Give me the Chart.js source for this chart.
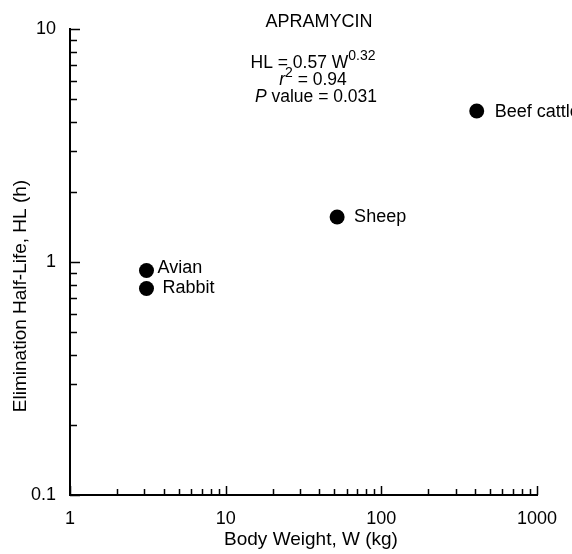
<!DOCTYPE html>
<html>
<head>
<meta charset="utf-8">
<script src="https://cdn.jsdelivr.net/npm/chart.js@4"></script>
<style>
  html, body { margin: 0; padding: 0; background: #fff; }
  canvas { display: block; }
</style>
</head>
<body>
<canvas id="chart" width="572" height="554"></canvas>
<script>
const species = ['Avian', 'Rabbit', 'Sheep', 'Beef cattle'];
const bodyWeight = [3.1, 3.1, 52, 410];
const halfLife = [0.92, 0.77, 1.56, 4.45];
const xTicks = [1, 10, 100, 1000];
const yTicks = [0.1, 1, 10];
const drugName = 'APRAMYCIN';
const fitCoef = '0.57';
const fitExp = '0.32';
const rSquared = '0.94';
const pValue = '0.031';

// where each name sits relative to its dot (px)
const labelShift = [[11, 3], [16, 5], [17, 5], [18, 6]];
const FONT = '"Liberation Sans", Arial, Helvetica, sans-serif';

// draw a line made of pieces (normal / italic / superscript), centred on cx
function richText(ctx, parts, cx, base) {
  let w = 0;
  parts.forEach(p => { ctx.font = p.font; w += ctx.measureText(p.t).width; });
  let x = cx - w / 2;
  ctx.textAlign = 'left';
  parts.forEach(p => {
    ctx.font = p.font;
    ctx.fillText(p.t, x, base + (p.dy || 0));
    x += ctx.measureText(p.t).width;
  });
}

const extras = {
  id: 'extras',
  afterDraw(chart) {
    const ctx = chart.ctx;
    const xs = chart.scales.x, ys = chart.scales.y;
    const area = chart.chartArea;
    ctx.save();
    ctx.strokeStyle = '#000';
    ctx.fillStyle = '#000';
    ctx.lineWidth = 1.5;

    // tick marks point into the plot
    ctx.beginPath();
    for (let d = 1; d < 1000; d *= 10) {
      for (let m = 1; m <= 10; m++) {
        const px = Math.round(xs.getPixelForValue(m * d)) + 0.5;
        const len = (m === 1 || m === 10) ? 9 : 6;
        ctx.moveTo(px, area.bottom);
        ctx.lineTo(px, area.bottom - len);
      }
    }
    [0.1, 1].forEach(d => {
      for (let m = 1; m <= 10; m++) {
        const py = Math.round(ys.getPixelForValue(m * d)) + 0.5;
        const len = (m === 1 || m === 10) ? 10 : 7;
        ctx.moveTo(area.left, py);
        ctx.lineTo(area.left + len, py);
      }
    });
    ctx.stroke();

    // names beside the dots
    ctx.font = '18px ' + FONT;
    ctx.textAlign = 'left';
    ctx.textBaseline = 'alphabetic';
    chart.getDatasetMeta(0).data.forEach((pt, i) => {
      ctx.fillText(species[i], pt.x + labelShift[i][0], pt.y + labelShift[i][1]);
    });

    // heading and fit
    ctx.font = '18px ' + FONT;
    ctx.textAlign = 'center';
    ctx.fillText(drugName, 319, 27);
    const f = '17.5px ' + FONT, fi = 'italic 17.5px ' + FONT, fs = '14px ' + FONT;
    richText(ctx, [{ t: 'HL = ' + fitCoef + ' W', font: f }, { t: fitExp, font: fs, dy: -8 }], 313, 68);
    richText(ctx, [{ t: 'r', font: fi }, { t: '2', font: fs, dy: -8 }, { t: ' = ' + rSquared, font: f }], 313, 85);
    richText(ctx, [{ t: 'P', font: fi }, { t: ' value = ' + pValue, font: f }], 316, 102);

    // axis titles
    ctx.font = '19px ' + FONT;
    ctx.textAlign = 'center';
    ctx.fillText('Body Weight, W (kg)', 311, 545);
    ctx.translate(26, 296);
    ctx.rotate(-Math.PI / 2);
    ctx.fillText('Elimination Half-Life, HL (h)', 0, 0);
    ctx.restore();
  }
};

new Chart(document.getElementById('chart'), {
  type: 'scatter',
  data: {
    datasets: [{
      data: bodyWeight.map((w, i) => ({ x: w, y: halfLife[i] })),
      backgroundColor: '#000',
      borderWidth: 0,
      pointRadius: 7.5,
      pointHoverRadius: 7.5
    }]
  },
  options: {
    responsive: false,
    animation: false,
    events: [],
    layout: { padding: { top: 29, right: 35, left: 0, bottom: 0 } },
    plugins: { legend: { display: false }, tooltip: { enabled: false } },
    scales: {
      x: {
        type: 'logarithmic',
        min: 1,
        max: 1000,
        afterBuildTicks: s => { s.ticks = xTicks.map(v => ({ value: v })); },
        afterFit: s => { s.height = 59; },
        grid: { display: false, drawTicks: false },
        border: { display: true, color: '#000', width: 2 },
        ticks: {
          autoSkip: false, maxRotation: 0, padding: 13, color: '#000',
          font: { family: FONT, size: 18 },
          callback: v => String(v)
        }
      },
      y: {
        type: 'logarithmic',
        min: 0.1,
        max: 10,
        afterBuildTicks: s => { s.ticks = yTicks.map(v => ({ value: v })); },
        afterFit: s => { s.width = 70; },
        grid: { display: false, drawTicks: false },
        border: { display: true, color: '#000', width: 2 },
        ticks: {
          autoSkip: false, padding: 14, color: '#000',
          font: { family: FONT, size: 18 },
          callback: v => String(v)
        }
      }
    }
  },
  plugins: [extras]
});
</script>
</body>
</html>
